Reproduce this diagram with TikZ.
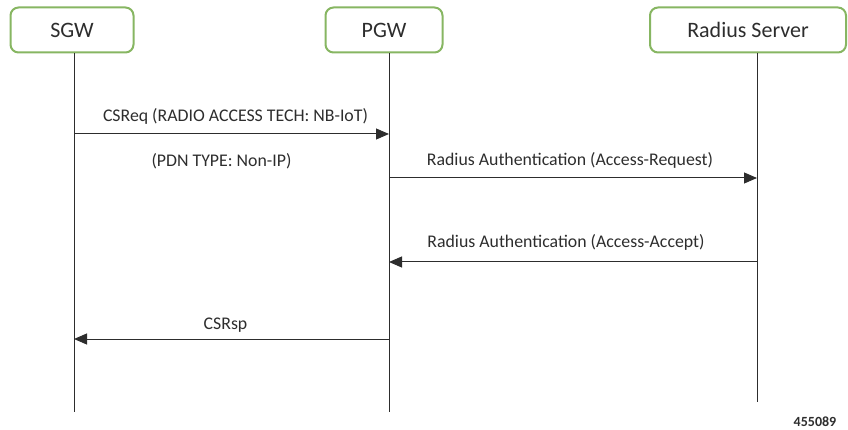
\documentclass[tikz,border=0pt]{standalone}
\usepackage{fontspec}
\setmainfont{Carlito}
\usepackage{tikz}
\usetikzlibrary{arrows.meta, positioning}
\definecolor{boxgreen}{RGB}{135,182,98}
\definecolor{ink}{RGB}{45,45,45}
\tikzstyle{entity}=[rectangle, draw=boxgreen, line width=2pt, rounded corners=8pt, fill=white, minimum height=45pt, font=\fontsize{22}{26}\selectfont, text=ink]
\tikzstyle{lifeline}=[draw=ink, line width=1pt]
\tikzstyle{msg}=[draw=ink, line width=1pt, -{Triangle[length=13pt,width=11pt]}]
\tikzstyle{lbl}=[font=\fontsize{17.8}{21}\selectfont, text=ink]

\begin{document}
\begin{tikzpicture}[x=1pt, y=-1pt]
    \useasboundingbox (0,0) rectangle (848,430);

    \node (sgw) [entity, minimum width=123pt] at (72,30) {SGW};
    \node (pgw) [entity, minimum width=117pt] at (384,30) {PGW};
    \node (rad) [entity, minimum width=196pt] at (748,30) {Radius Server};

    % ends of the lifelines
    \coordinate (sgwend) at (74,412);
    \coordinate (pgwend) at (389,412);
    \coordinate (radend) at (757,402);

    \draw[lifeline] ([xshift=2pt]sgw.south) -- (sgwend);
    \draw[lifeline] ([xshift=5pt]pgw.south) -- (pgwend);
    \draw[lifeline] ([xshift=9pt]rad.south) -- (radend);

    % message points on the lifelines
    \coordinate (sgw1) at (74,134);
    \coordinate (pgw1) at (389,134);
    \coordinate (pgw2) at (389,178);
    \coordinate (rad2) at (757,178);
    \coordinate (rad3) at (757,262);
    \coordinate (pgw3) at (389,262);
    \coordinate (pgw4) at (389,339);
    \coordinate (sgw4) at (74,339);

    \draw[msg] (sgw1) -- node[lbl, yshift=18pt, xshift=4pt] {CSReq (RADIO ACCESS TECH: NB-IoT)}
                         node[lbl, yshift=-27pt, xshift=-10pt] {(PDN TYPE: Non-IP)} (pgw1);
    \draw[msg] (pgw2) -- node[lbl, yshift=18pt, xshift=-3pt] {Radius Authentication (Access-Request)} (rad2);
    \draw[msg] (rad3) -- node[lbl, yshift=20pt, xshift=-7pt] {Radius Authentication (Access-Accept)} (pgw3);
    \draw[msg] (pgw4) -- node[lbl, yshift=14pt, xshift=-6pt] {CSRsp} (sgw4);

    \node (ref) [font=\bfseries\fontsize{14}{16}\selectfont, text=ink] at (815,422) {455089};
\end{tikzpicture}
\end{document}
